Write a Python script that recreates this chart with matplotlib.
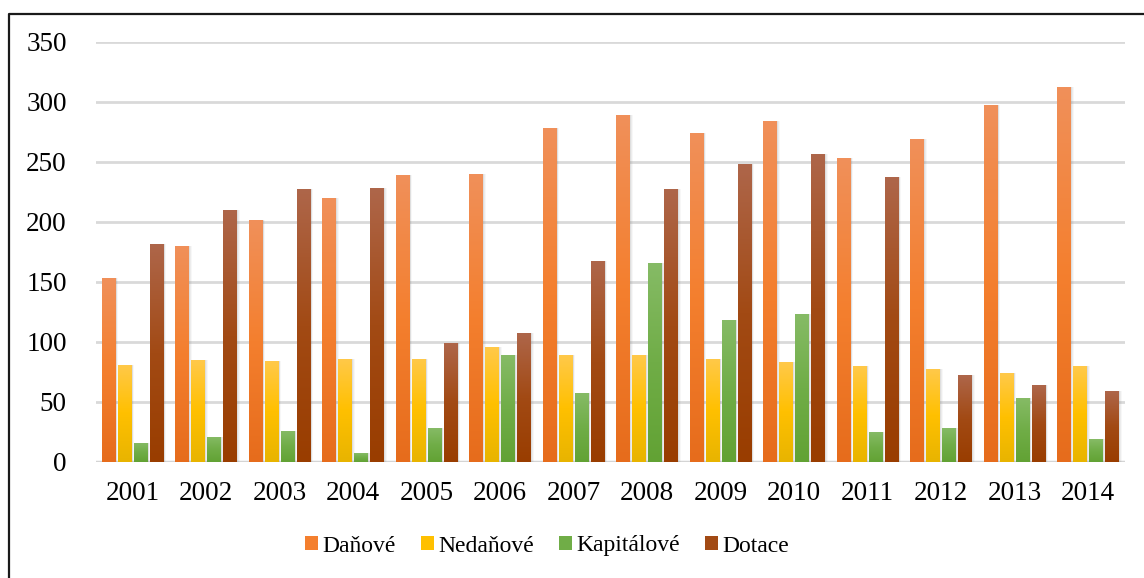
import matplotlib
matplotlib.use("Agg")
import matplotlib.pyplot as plt
import numpy as np
from matplotlib.colors import LinearSegmentedColormap
from matplotlib.patches import Patch
from matplotlib.lines import Line2D

years = ["2001", "2002", "2003", "2004", "2005", "2006", "2007",
         "2008", "2009", "2010", "2011", "2012", "2013", "2014"]
danove = [153, 180, 201, 220, 239, 240, 278, 289, 274, 284, 253, 269, 297, 312]
nedanove = [81, 85, 84, 86, 86, 96, 89, 89, 86, 83, 80, 77, 74, 80]
kapitalove = [16, 21, 26, 7, 28, 89, 57, 166, 118, 123, 25, 28, 53, 19]
dotace = [181, 210, 227, 228, 99, 107, 167, 227, 248, 256, 237, 72, 64, 59]

series = [("Daňové", danove), ("Nedaňové", nedanove),
          ("Kapitálové", kapitalove), ("Dotace", dotace)]
# top, middle, bottom of the gradient fill
grads = [("#F0905A", "#F47F2E", "#E66C1C"),
         ("#FFC94A", "#FFC000", "#E8B400"),
         ("#86BB66", "#70AD47", "#62A234"),
         ("#AE664A", "#A24A14", "#993D00")]

plt.rcParams['font.family'] = ['Liberation Serif', 'DejaVu Serif']

fig = plt.figure(figsize=(11.44, 5.78), dpi=100)
ax = fig.add_axes([96 / 1144, 1 - 461.7 / 578, 1029 / 1144, 420 / 578])

x = np.arange(len(years))
width = 0.19
step = 0.218

for i, (name, vals) in enumerate(series):
    pos = x + (i - 1.5) * step
    cmap = LinearSegmentedColormap.from_list(name, [grads[i][2], grads[i][1], grads[i][0]])
    # soft shadow
    for k, a in enumerate([0.12, 0.09, 0.06]):
        off = 0.012 + k * 0.01
        ax.bar(pos + off, vals, width, bottom=0, color="#808080", alpha=a,
               linewidth=0, zorder=2)
    bars = ax.bar(pos, vals, width, color=grads[i][1], linewidth=0, zorder=3)
    grad = np.linspace(0, 1, 256).reshape(-1, 1)
    for b in bars:
        bx, by = b.get_x(), b.get_y()
        bw, bh = b.get_width(), b.get_height()
        im = ax.imshow(grad, extent=[bx, bx + bw, by, by + bh], origin="lower",
                       aspect="auto", cmap=cmap, zorder=4)
        im.set_clip_path(b)

ax.set_xlim(-0.5, len(years) - 0.5)
ax.set_ylim(0, 350)
ax.set_yticks(np.arange(0, 351, 50))
ax.set_xticks(x)
ax.set_xticklabels(years)
ax.yaxis.grid(True, color="#D9D9D9", linewidth=2.0, zorder=0)
ax.set_axisbelow(True)
for s in ax.spines.values():
    s.set_visible(False)
ax.axhline(0, color="#D4D4D4", linewidth=2.5, zorder=1)
ax.tick_params(axis="both", length=0, labelsize=19.5, colors="black")
ax.tick_params(axis="y", pad=21)
ax.tick_params(axis="x", pad=14)

handles = [Patch(facecolor=grads[i][1], edgecolor="none") for i in range(4)]
fig.legend(handles, [s[0] for s in series], loc="center", bbox_to_anchor=(547 / 1144, 1 - 546 / 578),
           ncol=4, frameon=False, fontsize=17, handlelength=0.55, handleheight=0.55,
           handletextpad=0.2, columnspacing=1.05)

# chart frame (only left and top visible)
fig.add_artist(Line2D([9 / 1144, 9 / 1144, 1.0], [0, 1 - 14 / 578, 1 - 14 / 578],
                      transform=fig.transFigure, color="#1a1a1a", linewidth=1.6))

fig.savefig("out.png", dpi=100)
